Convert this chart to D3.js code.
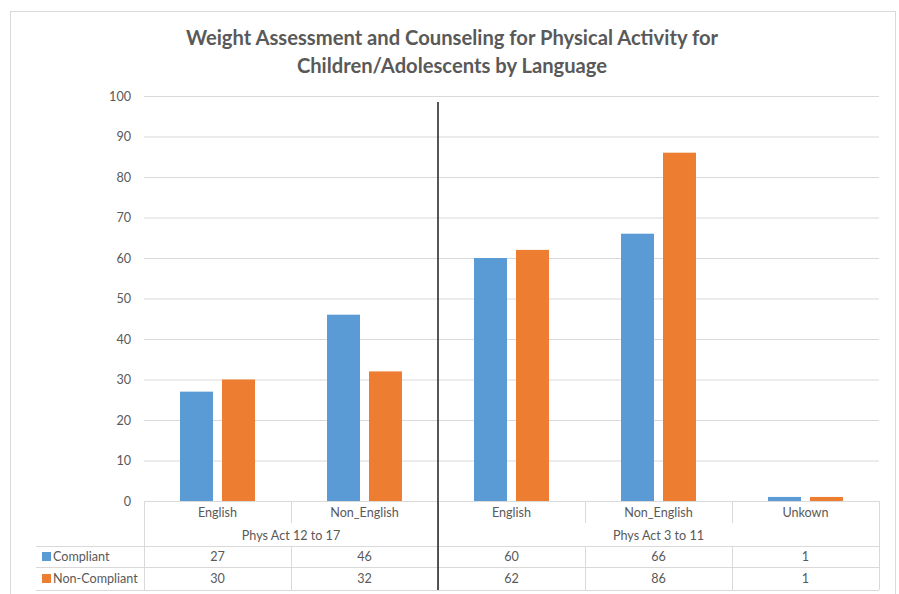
<!DOCTYPE html>
<html>
<head>
<meta charset="utf-8">
<script src="https://cdn.jsdelivr.net/npm/d3@7"></script>
<style>
  html, body { margin: 0; padding: 0; background: #fff; }
  svg { display: block; }
  text { font-family: Lato, "Open Sans", sans-serif; }
</style>
</head>
<body>
<svg id="chart" width="899" height="594"></svg>
<script>
// Categories: language within age group
const groups = ["Phys Act 12 to 17", "Phys Act 3 to 11"];
const categories = ["English", "Non_English", "English", "Non_English", "Unkown"];
const categoryGroup = [0, 0, 1, 1, 1];
const seriesNames = ["Compliant", "Non-Compliant"];
const compliant = [27, 46, 60, 66, 1];
const nonCompliant = [30, 32, 62, 86, 1];
const yTicks = [0, 10, 20, 30, 40, 50, 60, 70, 80, 90, 100];
const titleLines = ["Weight Assessment and Counseling for Physical Activity for",
                    "Children/Adolescents by Language"];

const colors = { "Compliant": "#5B9BD5", "Non-Compliant": "#ED7D31" };
const seriesValues = { "Compliant": compliant, "Non-Compliant": nonCompliant };

const svg = d3.select("#chart");
const plot = { left: 144, right: 879, top: 96, bottom: 501 };
const gridColor = "#d9d9d9";
const textColor = "#595959";
const smallFont = 12.6;

// chart frame
svg.append("rect")
  .attr("x", 10.5).attr("y", 11.5).attr("width", 885).attr("height", 600)
  .attr("fill", "#fff").attr("stroke", "#d9d9d9");

// title
svg.append("g").selectAll("text").data(titleLines).join("text")
  .attr("x", 452).attr("y", (d, i) => 45 + i * 28)
  .attr("text-anchor", "middle")
  .attr("font-size", 20.2).attr("font-weight", "bold")
  .attr("fill", textColor)
  .text(d => d);

const idx = d3.range(categories.length);
const x = d3.scaleBand().domain(idx).range([plot.left, plot.right]).padding(0);
const bw = x.bandwidth();
const x1 = d3.scaleBand().domain(seriesNames)
  .range([bw * 0.245, bw * 0.755]).paddingInner(9 / 42).paddingOuter(0);
const y = d3.scaleLinear().domain([0, 100]).range([plot.bottom, plot.top]);

// gridlines + labels via axis
const yAxis = d3.axisLeft(y).tickValues(yTicks)
  .tickSize(-(plot.right - plot.left)).tickPadding(13);
const gy = svg.append("g").attr("transform", `translate(${plot.left},0)`).call(yAxis);
gy.select(".domain").remove();
gy.selectAll(".tick line").attr("stroke", gridColor).attr("stroke-width", 1);
gy.selectAll(".tick text").attr("fill", textColor).attr("font-size", smallFont)
  .attr("font-family", "Lato, 'Open Sans', sans-serif");

// bars
const barG = svg.append("g");
seriesNames.forEach(s => {
  barG.append("g").selectAll("rect").data(idx).join("rect")
    .attr("x", i => x(i) + x1(s))
    .attr("width", x1.bandwidth())
    .attr("y", i => y(seriesValues[s][i]))
    .attr("height", i => y(0) - y(seriesValues[s][i]))
    .attr("fill", colors[s]);
});

// data table
const rows = { cat: 512, grp: 535, line1: 546, line2: 567, line3: 590, r1: 556.5, r2: 578.5 };
const tbl = svg.append("g");
const hl = (x0, x1_, yy) => tbl.append("line").attr("x1", x0).attr("x2", x1_)
  .attr("y1", yy + 0.5).attr("y2", yy + 0.5).attr("stroke", gridColor);
const vl = (xx, y0, y1_) => tbl.append("line").attr("x1", xx + 0.5).attr("x2", xx + 0.5)
  .attr("y1", y0).attr("y2", y1_).attr("stroke", gridColor);

hl(plot.left, plot.right, plot.bottom);
hl(36, plot.right, rows.line1);
hl(36, plot.right, rows.line2);
hl(36, plot.right, rows.line3);
vl(plot.left, plot.bottom, rows.line3);
vl(plot.right, plot.bottom, rows.line3);
idx.slice(1).forEach(i => {
  const xx = Math.round(x(i));
  if (categoryGroup[i] !== categoryGroup[i - 1]) {
    vl(xx, plot.bottom, rows.line3);
  } else {
    vl(xx, plot.bottom, 523);
    vl(xx, rows.line1, rows.line3);
  }
});

// category labels
tbl.append("g").selectAll("text").data(idx).join("text")
  .attr("x", i => x(i) + bw / 2).attr("y", rows.cat + 4.5)
  .attr("text-anchor", "middle").attr("font-size", smallFont).attr("fill", textColor)
  .text(i => categories[i]);

// group labels
tbl.append("g").selectAll("text").data(groups).join("text")
  .attr("x", (g, gi) => {
    const members = idx.filter(i => categoryGroup[i] === gi);
    return (x(members[0]) + x(members[members.length - 1]) + bw) / 2;
  })
  .attr("y", rows.grp + 4.5)
  .attr("text-anchor", "middle").attr("font-size", smallFont).attr("fill", textColor)
  .text(g => g);

// value rows with legend keys
seriesNames.forEach((s, si) => {
  const ry = si === 0 ? rows.r1 : rows.r2;
  tbl.append("rect").attr("x", 42).attr("y", ry - 4.5).attr("width", 9).attr("height", 9)
    .attr("fill", colors[s]);
  tbl.append("text").attr("x", 53).attr("y", ry + 4.5)
    .attr("font-size", smallFont).attr("fill", textColor).text(s);
  tbl.append("g").selectAll("text").data(idx).join("text")
    .attr("x", i => x(i) + bw / 2).attr("y", ry + 4.5)
    .attr("text-anchor", "middle").attr("font-size", smallFont).attr("fill", textColor)
    .text(i => seriesValues[s][i]);
});

// divider between age groups
const divX = Math.round(x(idx.find((i, k) => k > 0 && categoryGroup[i] !== categoryGroup[i - 1])));
svg.append("line").attr("x1", divX).attr("x2", divX)
  .attr("y1", 102).attr("y2", rows.line3)
  .attr("stroke", "#111").attr("stroke-width", 1.4);
</script>
</body>
</html>
